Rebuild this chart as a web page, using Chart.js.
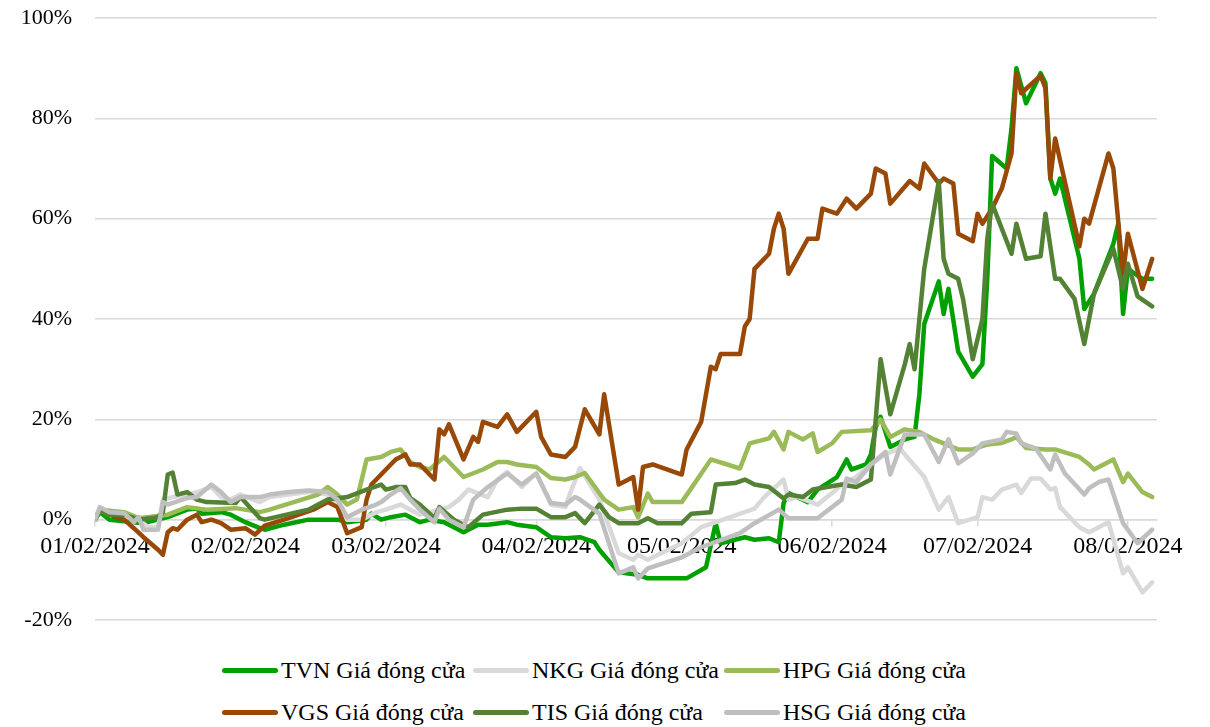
<!DOCTYPE html>
<html>
<head>
<meta charset="utf-8">
<script src="https://cdn.jsdelivr.net/npm/chart.js@4.4.1/dist/chart.umd.min.js"></script>
<style>
  body { margin: 0; background: #fff; }
  #wrap { position: relative; width: 1210px; height: 727px; }
  #box { position: absolute; left: 0; top: 0; width: 1210px; height: 640px; }
  #legend {
    position: absolute; left: 222px; top: 655px;
    display: grid; grid-template-columns: 251px 251px 251px; row-gap: 12px;
    font: 24px 'Liberation Serif', 'Times New Roman', serif; color: #000;
  }
  .item { display: flex; align-items: center; height: 30px; white-space: nowrap; }
  .sw { display: inline-block; width: 56px; height: 5px; border-radius: 3px; margin-right: 3px; }
</style>
</head>
<body>
<div id="wrap">
  <div id="box"><canvas id="myChart"></canvas></div>
  <div id="legend"></div>
</div>
<script>
// x values are days counted from 01/02/2024 (month/day/year)
const tickDays = [0, 31, 60, 91, 121, 152, 182, 213];
const tickLabels = ['01/02/2024', '02/02/2024', '03/02/2024', '04/02/2024',
                    '05/02/2024', '06/02/2024', '07/02/2024', '08/02/2024'];

const seriesNames = ['TVN Giá đóng cửa', 'NKG Giá đóng cửa', 'HPG Giá đóng cửa',
                     'VGS Giá đóng cửa', 'TIS Giá đóng cửa', 'HSG Giá đóng cửa'];
const seriesColors = ['#00a000', '#d9d9d9', '#9bbb59', '#984807', '#548235', '#bfbfbf'];

// [day, % change]
const tvn = [[0,0],[1,1.5],[3,0],[6,-0.3],[10,-0.7],[15,0.5],[19,2],[21,2.2],[22,1.2],[26,1.5],[28,1],[31,-0.5],[34,-1.7],[35,-2],[39,-1],[44,0],[50,0],[52,-0.5],[56,0],[57,1.2],[59,0],[61,0.5],[64,1],[67,-0.5],[69,0],[72,-0.5],[76,-2.5],[79,-1],[81,-1],[85,-0.5],[87,-1],[91,-1.5],[94,-3.5],[97,-3.7],[100,-3.5],[103,-4.5],[104,-6],[108,-10.5],[112,-11],[114,-11.7],[122,-11.7],[126,-9.5],[128,-0.7],[129,-4.7],[134,-3.5],[136,-4],[139,-3.7],[141,-4.5],[142,3.3],[143,5.3],[147,3.5],[149,6],[153,8.5],[155,12],[156,10],[159,11],[160,13],[161,18.5],[162,20.5],[164,14.5],[167,16],[169,16.5],[170,25],[171,39],[174,47.5],[175,41],[176,46],[178,33.5],[181,28.5],[183,31],[184,48],[185,72.5],[188,70],[189,78],[190,90],[192,83],[195,89],[196,87],[197,68],[198,65],[199,68],[203,52],[204,42],[206,45],[208,50],[210,55],[211,59],[212,41],[213,50],[216,48],[218,48]];
const nkg = [[0,0],[1,2],[3,1],[6,1.3],[9,0],[11,-1.5],[13,-1.5],[14,4],[16,4.5],[19,5],[21,5.5],[24,6.5],[26,4.5],[28,4],[30,5],[34,3.5],[36,4.5],[40,5],[44,5.5],[48,5],[50,3],[52,0],[55,0],[58,1.5],[60,2],[63,3],[65,2],[67,1],[71,2],[73,2.5],[75,4],[77,6],[81,4.5],[83,8],[85,9.5],[88,6.5],[91,9.3],[94,3],[97,2.5],[98,5.3],[100,10.3],[104,4],[108,-6.7],[111,-8],[112,-7],[114,-8],[121,-4.7],[125,-1.5],[131,0.5],[136,2.2],[138,4.5],[142,8],[143,4],[145,4.5],[149,3],[152,5.3],[154,7],[157,8.5],[160,11],[163,13],[166,14.2],[167,13],[171,8.5],[174,2],[176,4.5],[178,-0.7],[182,0.5],[183,4.5],[185,4],[187,6],[190,7],[191,5.3],[193,8.2],[195,8.2],[197,6],[198,6.3],[199,2.5],[203,-1.5],[205,-2.5],[209,-0.5],[212,-10.7],[213,-9.5],[216,-14.5],[218,-12.5]];
const hpg = [[0,0],[1,2],[6,1.5],[9,0.3],[15,1],[19,2.5],[23,2],[29,2.3],[34,1.5],[36,2],[46,5],[48,6.5],[50,5],[52,3],[54,4],[56,12],[59,12.5],[61,13.5],[63,14],[65,11.5],[67,10.5],[69,10],[72,12.5],[76,8.5],[80,10],[83,11.5],[85,11.5],[87,11],[91,10.5],[94,8.3],[97,8],[99,8.5],[101,9.3],[105,4],[108,2],[111,2.5],[112,0.5],[114,5.2],[115,3.5],[121,3.5],[127,12],[133,10.2],[135,15.2],[139,16.2],[140,17.5],[142,14],[143,17.5],[146,16],[148,17.2],[149,13.5],[152,15.2],[154,17.5],[160,17.8],[162,20],[164,16.5],[167,18],[170,17.5],[173,16],[178,14],[181,14],[184,15],[187,15.3],[189,16],[190,16.5],[192,14.3],[196,14],[198,14],[203,12.5],[205,11],[206,10],[210,12],[212,7.5],[213,9.2],[216,5.5],[218,4.5]];
const vgs = [[0,0],[1,2],[3,1],[6,0],[8,-1.7],[10,-3.5],[13,-6],[14,-7],[15,-2.5],[16,-1.7],[17,-2],[19,0],[21,1],[22,-0.5],[24,0],[26,-0.7],[28,-2],[31,-1.7],[33,-3],[35,-1.2],[39,0],[42,1],[45,2],[48,3.5],[50,2.5],[52,-2.7],[55,-1.5],[56,4],[57,7],[59,9],[62,12],[64,13],[65,11],[67,11],[70,8],[71,18],[72,17],[73,19],[76,12],[78,16.5],[79,15.5],[80,19.5],[83,18.5],[85,21],[87,17.5],[91,21.5],[92,16.5],[94,13],[97,12.5],[99,14.5],[101,22],[104,17],[105,25],[108,7],[111,8.5],[112,2],[113,10.5],[115,11],[121,9],[122,14],[125,19.5],[127,30.5],[128,30],[129,33],[133,33],[134,38.5],[135,40],[136,50],[139,53],[140,58],[141,61],[142,58],[143,49],[147,56],[149,56],[150,62],[153,61],[155,64],[157,62],[160,65],[161,70],[163,69],[164,63],[168,67.5],[170,66],[171,71],[174,67],[175,68],[177,67],[178,57],[181,55.5],[182,61],[183,59],[185,62],[187,66],[189,73],[190,89],[191,85],[195,88.5],[196,86],[197,68],[198,76],[203,54.5],[204,60],[205,59],[209,73],[210,70],[212,49],[213,57],[216,46],[218,52]];
const tis = [[0,0],[1,2],[3,1],[6,1],[9,0],[13,0.5],[14,1.5],[15,9],[16,9.4],[17,5],[19,5.5],[21,4],[23,3.5],[29,3.3],[30,4.5],[34,0.3],[35,0],[44,2],[48,4],[52,4.5],[56,6],[59,7],[60,6],[62,6.5],[64,6.5],[65,4.3],[67,3],[70,0.3],[71,2.5],[74,0],[77,-1.5],[80,1],[85,2],[88,2.2],[91,2.2],[94,0.5],[97,0.5],[99,1.3],[101,-0.7],[104,3],[106,0.5],[108,-0.7],[112,-0.7],[114,0.3],[116,-0.7],[121,-0.7],[123,1.2],[127,1.5],[128,7],[132,7.3],[134,8],[136,7],[139,6.5],[142,4.2],[143,5],[146,4.5],[148,6],[151,6.5],[154,7],[157,6.5],[160,8],[162,32],[164,21],[167,31],[168,35],[169,30],[171,50],[174,67.5],[175,52],[176,49],[178,48],[179,44],[181,32],[183,40],[184,56],[185,63],[189,53],[190,59],[192,52],[195,52.5],[196,61],[198,48],[199,48],[202,44],[204,35],[206,45],[210,54],[212,46],[213,51],[215,44.5],[218,42.5]];
const hsg = [[0,0],[1,2.5],[3,1.5],[6,1.3],[8,-0.5],[9,0.5],[10,-2],[13,-2],[14,3.5],[15,3],[19,4.3],[21,4.5],[24,7],[26,5.5],[28,3.5],[30,4.5],[34,4.5],[36,5],[40,5.5],[44,5.8],[48,5.5],[50,4],[52,0.5],[55,2],[58,3],[59,3.5],[61,5],[63,6.3],[65,4],[67,2],[70,-0.5],[71,2.2],[73,0],[76,-1.5],[78,4],[81,6.5],[85,9.2],[88,7],[91,9.2],[94,3.3],[97,3],[99,4.5],[100,4],[104,1.2],[108,-10.7],[111,-9.5],[112,-11.7],[114,-9.7],[121,-7.5],[125,-5.5],[133,-2.7],[136,-0.7],[141,2],[143,0.3],[149,0.3],[154,4],[155,8.2],[157,7.5],[160,11],[163,13.5],[164,9],[167,17],[171,17],[174,11.5],[176,16],[178,11.2],[181,13.2],[183,15.2],[187,16],[188,17.5],[190,17.2],[191,15.2],[194,14.2],[197,10],[198,13],[200,9.2],[204,5],[205,6.3],[207,7.5],[209,8],[212,-0.7],[215,-4.7],[218,-2]];

const seriesData = [tvn, nkg, hpg, vgs, tis, hsg];
const fontFamily = "'Liberation Serif', 'Times New Roman', serif";

const datasets = seriesData.map(function(pts, i) {
  return {
    label: seriesNames[i],
    data: pts.map(p => ({x: p[0], y: p[1]})),
    borderColor: seriesColors[i],
    backgroundColor: seriesColors[i],
    borderWidth: 4.5,
    pointRadius: 0,
    tension: 0,
    borderJoinStyle: 'round',
    borderCapStyle: 'round',
    order: seriesData.length - i  // later series drawn on top, like the source
  };
});

const ctx = document.getElementById('myChart').getContext('2d');
const myChart = new Chart(ctx, {
  type: 'line',
  data: { datasets: datasets },
  options: {
    responsive: true,
    maintainAspectRatio: false,
    animation: false,
    layout: { padding: {top: 18, right: 53, bottom: 20, left: 0} },
    plugins: { legend: { display: false }, tooltip: { enabled: false } },
    scales: {
      x: {
        type: 'linear',
        position: {y: 0},
        min: 0, max: 219,
        afterBuildTicks: function(scale) {
          scale.ticks = tickDays.map(d => ({value: d}));
        },
        ticks: {
          autoSkip: false, maxRotation: 0, padding: 7, color: '#000',
          font: {family: fontFamily, size: 24},
          callback: function(value) { return tickLabels[tickDays.indexOf(value)]; }
        },
        grid: { drawOnChartArea: false, drawTicks: true, tickLength: 6, color: '#d9d9d9', lineWidth: 1.5 },
        border: { display: true, color: '#d9d9d9', width: 1.5 }
      },
      y: {
        min: -20, max: 100,
        afterFit: function(scale) {
          scale.width = 95;
          scale.paddingTop = 0;
          scale.paddingBottom = 0;
        },
        ticks: {
          stepSize: 20, padding: 23, color: '#000',
          font: {family: fontFamily, size: 22},
          callback: function(v) { return v + '%'; }
        },
        grid: { color: '#d9d9d9', lineWidth: 1.5, drawTicks: false },
        border: { display: false }
      }
    }
  }
});

// legend under the chart, three per row
const legend = document.getElementById('legend');
seriesNames.forEach(function(name, i) {
  const item = document.createElement('div');
  item.className = 'item';
  const sw = document.createElement('span');
  sw.className = 'sw';
  sw.style.background = seriesColors[i];
  item.appendChild(sw);
  item.appendChild(document.createTextNode(name));
  legend.appendChild(item);
});
</script>
</body>
</html>
